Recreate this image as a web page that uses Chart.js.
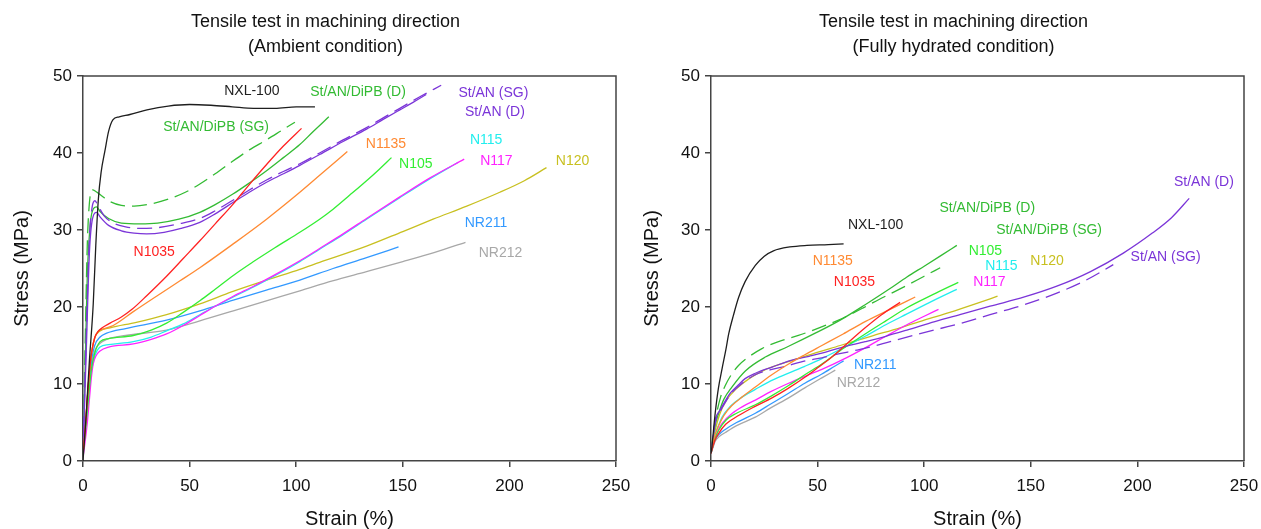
<!DOCTYPE html>
<html>
<head>
<meta charset="utf-8">
<script src="https://cdn.jsdelivr.net/npm/chart.js@4.4.1/dist/chart.umd.min.js"></script>
<style>
html,body{margin:0;padding:0;background:#fff;}
#wrap{position:relative;width:1261px;height:529px;overflow:hidden;}
#c1{position:absolute;left:0;top:0;}
#c2{position:absolute;left:630px;top:0;}
</style>
</head>
<body>
<div id="wrap">
<canvas id="c1" width="630" height="529"></canvas>
<canvas id="c2" width="631" height="529"></canvas>
</div>
<script>
// ---------- Ambient condition (left) : [strain %, stress MPa] ----------
const amb_NXL100 = [[0,0],[1.5,6],[3,13],[4.8,20.4],[6,28],[7.2,34],[8.5,37.5],[10.3,40.3],[12,42.8],[14,44.3],[17,44.7],[22,45],[30,45.6],[40,46.1],[50,46.3],[60,46.2],[70,46.0],[80,45.8],[90,45.8],[100,46],[108.8,46]];
const amb_DiPB_SG = [[0,1],[1,15],[2,28],[3,33.5],[4.5,35.2],[6,35],[8,34.6],[12,33.8],[18,33.2],[24,33.1],[32,33.4],[40,34],[48,34.9],[55,36],[62,37.3],[70,38.9],[78,40.4],[86,41.7],[93,42.9],[99.4,44.0]];
const amb_DiPB_D = [[0,1],[1,12],[2,24],[3.5,31],[5,32.8],[6.4,33.0],[8,32.4],[12,31.5],[18,30.9],[26.7,30.8],[35,30.9],[45,31.4],[54.8,32.3],[62,33.3],[70.5,34.7],[78,36.1],[86.1,37.7],[94,39.4],[101.7,41.1],[108,42.8],[115.3,44.7]];
const amb_StAN_D = [[0,1],[1.5,14],[3,27],[4.5,31.5],[6.4,32.3],[8,31.7],[12,30.6],[18,29.9],[24,29.6],[29.8,29.5],[38,29.7],[46,30.2],[54.8,31.0],[62,32.1],[70.5,33.6],[78,34.9],[86.1,36.2],[94,37.3],[101.7,38.4],[111,39.8],[122,41.5],[133,43.1],[141,44.4],[148.6,45.6],[155,46.6],[161,47.6]];
const amb_StAN_SG = [[0,1],[1.5,16],[3,29],[4.3,33.0],[5.6,33.8],[7,33.2],[10,31.8],[15,30.8],[20,30.4],[26.7,30.2],[35,30.3],[45,30.8],[54.8,31.5],[62,32.5],[70.5,33.9],[78,35.2],[86.1,36.5],[94,37.6],[101.7,38.6],[111,40.0],[122,41.7],[133,43.3],[141,44.6],[148.6,45.8],[158,47.3],[168,48.8]];
const amb_N1035 = [[0,1],[1,4],[2,8],[3,11.5],[4,14],[5.5,16],[7,16.8],[9,17.3],[12.7,17.9],[18,18.7],[23,19.7],[30,21.5],[39.2,24.0],[47,26.3],[54.8,28.6],[62,30.8],[70.5,33.4],[78,35.9],[86.1,38.5],[94,40.9],[102.5,43.2]];
const amb_N1135 = [[0,1],[1,4],[2,8],[3,11.5],[4,14],[5.5,16],[7,16.8],[10,17.2],[14.2,17.6],[23.6,19.4],[35,21.5],[45.5,23.4],[54.8,25.1],[70,28.1],[86.1,31.4],[100,34.5],[111,37.1],[124,40.2]];
const amb_N105 = [[0,1],[1,3.5],[2,6.5],[3,9.5],[4,12],[5.5,14],[8,15.5],[12,15.9],[23.6,16.3],[32,17],[39.2,17.9],[47,19.3],[54.8,20.8],[62,22.3],[70.5,24.1],[80,25.9],[90,27.7],[101.7,29.7],[111,31.4],[117.3,32.7],[125,34.5],[133,36.4],[139,37.9],[144.7,39.4]];
const amb_N115 = [[0,1],[1,3.5],[2,6.5],[3,9.3],[4,11.7],[5.5,13.6],[8,14.8],[12,15.1],[23.6,15.5],[32,16.1],[39.2,16.9],[47,17.8],[54.8,19.0],[62,20.1],[70.5,21.3],[80,22.6],[90.8,24.2],[101.7,25.9],[111,27.5],[122,29.4],[133,31.4],[148.6,34.2],[163,36.7],[176,38.8]];
const amb_N117 = [[0,0.5],[1,2.5],[2,4.9],[3,8],[4,11],[4.8,12.6],[6,13.6],[8,14.3],[12,14.8],[23.6,15.2],[32,15.8],[39.2,16.5],[47,17.6],[54.8,18.9],[62,20.1],[70.5,21.4],[80,22.7],[90.8,24.3],[101.7,26.0],[111,27.6],[122,29.5],[133,31.5],[148.6,34.3],[163,36.8],[178.8,39.2]];
const amb_N120 = [[0,1],[1,4],[2,8],[3,11.5],[4,14],[5.5,16],[8,16.9],[12.7,17.3],[25,18],[39.2,19],[54.8,20.4],[70,22],[86.1,23.5],[101.7,24.9],[111,25.8],[133,27.9],[150,29.8],[164.2,31.4],[180,33.1],[195.5,34.9],[207,36.4],[217.4,38.1]];
const amb_NR211 = [[0,1],[1,4],[2,7.5],[3,10.5],[4,13],[5.5,15],[8,16.1],[11.1,16.6],[20,17.2],[39.2,18.3],[54.8,19.5],[70.5,20.9],[86,22.2],[101.7,23.5],[117.3,25],[133,26.4],[148,27.8]];
const amb_NR212 = [[0,1],[1,3.8],[2,7],[3,10],[4,12.5],[5.5,14.3],[8,15.3],[11.1,15.8],[20,16.3],[39.2,17.0],[54.8,18.2],[70.5,19.5],[86,20.8],[101.7,22.1],[117,23.4],[133,24.6],[150,25.9],[165,27.1],[179.4,28.4]];

// ---------- Fully hydrated condition (right) ----------
const hyd_NXL100 = [[0,1],[0.5,2],[1,3.5],[2,6.3],[3.5,9.5],[5.2,12],[7,14.5],[8.3,16.5],[10.6,19],[12.9,21.2],[16,23.3],[20.8,25.4],[25,26.6],[29.3,27.3],[37,27.8],[45,28.0],[55,28.1],[62.2,28.2]];
const hyd_DiPB_SG = [[0,1],[1,3.5],[2.5,6],[4.5,8.3],[6.7,9.8],[9.5,11.2],[12.9,12.4],[17.6,13.5],[23.9,14.6],[31.7,15.5],[41,16.3],[48.9,17.1],[59.8,18.3],[70.8,19.8],[76.2,20.6],[84,21.7],[91.9,22.8],[100,24],[107.5,25.1]];
const hyd_DiPB_D = [[0,1],[1,3],[2,4.7],[3.6,6.2],[6,8],[9.8,9.6],[16.1,11.7],[25.5,13.5],[36.4,14.9],[48.9,16.6],[60.6,18.3],[72.3,20.3],[84,22.4],[91.9,23.9],[100,25.3],[108,26.7],[115.3,28.0]];
const hyd_StAN_D = [[0,1],[1,3],[2,5.3],[4,6.5],[6.7,7.8],[9,8.8],[12.9,9.9],[16,10.7],[20.8,11.4],[28.6,12.2],[38,13.1],[46,13.6],[52,14.0],[60.6,14.7],[72.3,15.5],[82,16.2],[91.9,17],[105,18.1],[118,19.1],[130.9,20.1],[147,21.3],[162.2,22.7],[178,24.6],[193.4,27.0],[207,29.6],[216,31.6],[224.3,34.1]];
const hyd_StAN_SG = [[0,1],[1,3],[2,5],[4,6.3],[6.7,7.6],[9,8.6],[12.9,9.7],[20.8,11.2],[28.6,11.9],[34.8,12.3],[44.2,13.0],[52,13.4],[59.8,13.9],[68.4,14.4],[76.2,14.9],[91.9,16.1],[107.5,17.2],[120,18.1],[130.9,19.0],[147,20.3],[162.2,21.8],[176,23.5],[188.7,25.5]];
const hyd_N1035 = [[0,1],[1,2],[2,2.8],[3.6,3.6],[7,4.8],[12.9,5.9],[20,7],[28.6,8.2],[36,9.4],[44.2,10.9],[50,12.1],[56.7,13.5],[64,15.3],[72.3,17.3],[80,19.0],[88.7,20.6]];
const hyd_N1135 = [[0,1],[1,2.5],[2,3.5],[3.6,4.6],[6,5.9],[9.8,7.2],[15,8.4],[20.8,9.6],[28,11.1],[36.4,12.6],[44,13.8],[52,15.0],[62,16.5],[72.3,18.1],[84,19.7],[95.8,21.3]];
const hyd_N105 = [[0,1],[1,2],[2,3],[3.6,4.0],[7,5.3],[12,6.2],[20.8,7.3],[28,8.4],[36.4,9.8],[44,11.2],[52,12.6],[62,14.6],[72.3,16.5],[82,18.2],[91.9,19.9],[104,21.6],[116,23.2]];
const hyd_N115 = [[0,1],[1,2.3],[2,3.5],[3.5,4.6],[5.2,5.7],[9,7.1],[14,8.2],[20.8,9.3],[28,10.4],[36.4,11.4],[44,12.3],[52,13.3],[62,14.7],[72.3,16.2],[82,17.7],[91.9,19.1],[104,20.8],[115.3,22.3]];
const hyd_N117 = [[0,1],[1,2],[2,3],[3.5,4.1],[5.2,4.9],[10,6.2],[15,7.1],[20.8,7.9],[28,9.0],[36.4,10.1],[44,11],[52,11.9],[62,13.2],[72.3,14.7],[82,16.2],[91.9,17.7],[100,18.8],[106.7,19.7]];
const hyd_N120 = [[0,1],[1,2.5],[2,4],[4,6],[7,7.8],[12,9.4],[18.4,10.8],[25,11.8],[35,12.8],[45,13.7],[60.6,15.0],[75,16.2],[88.7,17.3],[100,18.3],[112,19.3],[124,20.4],[134.4,21.4]];
const hyd_NR211 = [[0,1],[1,2],[2,2.8],[4,3.5],[6.7,4.1],[12,5.0],[20.8,6.2],[28,7.4],[36.4,8.8],[44,10.1],[52,11.3],[58,12.3],[62.2,13.0]];
const hyd_NR212 = [[0,1],[1,1.8],[2,2.6],[4,3.2],[6.7,3.7],[12,4.6],[20.8,5.7],[28,6.9],[36.4,8.2],[44,9.5],[52,10.8],[58.3,11.8]];

// ---------- axis ticks ----------
const xTicks = [0, 50, 100, 150, 200, 250];
const yTicks = [0, 10, 20, 30, 40, 50];

// ---------- texts ----------
const titleLeft = ['Tensile test in machining direction', '(Ambient condition)'];
const titleRight = ['Tensile test in machining direction', '(Fully hydrated condition)'];
const xTitle = 'Strain (%)';
const yTitle = 'Stress (MPa)';

// curve labels: [text, strain, stress] (text centre)
const ambLabels = [
  ['NXL-100', 79.2, 48.0], ['St/AN/DiPB (SG)', 62.4, 43.4], ['St/AN/DiPB (D)', 129, 47.9],
  ['St/AN (SG)', 192.5, 47.8], ['St/AN (D)', 193.2, 45.3], ['N1135', 142.1, 41.2],
  ['N105', 156.1, 38.5], ['N115', 189.1, 41.7], ['N117', 193.9, 38.9], ['N120', 229.6, 38.9],
  ['NR211', 189, 30.9], ['NR212', 195.8, 27.0], ['N1035', 33.4, 27.1]
];
const hydLabels = [
  ['NXL-100', 77.2, 30.6], ['N1135', 57.1, 26.0], ['N1035', 67.3, 23.2],
  ['St/AN/DiPB (D)', 129.6, 32.8], ['St/AN/DiPB (SG)', 158.6, 30.0], ['N105', 128.7, 27.3],
  ['N115', 136.2, 25.3], ['N120', 157.6, 25.9], ['N117', 130.6, 23.2],
  ['St/AN (D)', 231.2, 36.2], ['St/AN (SG)', 213.2, 26.5], ['NR211', 77.0, 12.4], ['NR212', 69.2, 10.1]
];

const colors = {
  'NXL-100': '#1e1e1e', 'St/AN/DiPB (SG)': '#33bb33', 'St/AN/DiPB (D)': '#33bb33',
  'St/AN (SG)': '#7b35d8', 'St/AN (D)': '#7b35d8', 'N1035': '#ff2222', 'N1135': '#ff8a33',
  'N105': '#33ee33', 'N115': '#22eeee', 'N117': '#ff22ff', 'N120': '#c8c020',
  'NR211': '#3399ff', 'NR212': '#a8a8a8'
};
const FONT = "'Liberation Sans', Arial, sans-serif";

function ds(name, data, dashed) {
  return {
    label: name, data: data, borderColor: colors[name], backgroundColor: colors[name],
    borderWidth: 1.3, pointRadius: 0, fill: false, tension: 0.4,
    cubicInterpolationMode: 'monotone', borderDash: dashed ? [15, 7] : []
  };
}

function makePlugin(titles, labels) {
  return {
    id: 'deco',
    afterDraw(chart) {
      const ctx = chart.ctx, a = chart.chartArea;
      const xs = chart.scales.x, ys = chart.scales.y;
      ctx.save();
      ctx.strokeStyle = '#444'; ctx.lineWidth = 1.5;
      ctx.beginPath();
      ctx.moveTo(a.left, a.top); ctx.lineTo(a.right, a.top); ctx.lineTo(a.right, a.bottom);
      ctx.stroke();
      ctx.fillStyle = '#111'; ctx.font = '18px ' + FONT;
      ctx.textAlign = 'center'; ctx.textBaseline = 'middle';
      const cx = (a.left + a.right) / 2 - 24;
      ctx.fillText(titles[0], cx, 22);
      ctx.fillText(titles[1], cx, 47);
      ctx.font = '14px ' + FONT;
      labels.forEach(l => {
        ctx.fillStyle = colors[l[0]];
        ctx.fillText(l[0], xs.getPixelForValue(l[1]), ys.getPixelForValue(l[2]));
      });
      ctx.restore();
    }
  };
}

function makeChart(id, datasets, titles, labels, padRight, yWidth) {
  return new Chart(document.getElementById(id), {
    type: 'line',
    data: { datasets: datasets },
    options: {
      responsive: false, animation: false, devicePixelRatio: 1,
      layout: { padding: { left: 0, top: 76, right: padRight, bottom: 0 } },
      plugins: { legend: { display: false }, tooltip: { enabled: false }, title: { display: false } },
      scales: {
        x: {
          type: 'linear', min: 0, max: 250,
          afterBuildTicks(s) { s.ticks = xTicks.map(v => ({ value: v })); },
          afterFit(s) { s.height = 68; s.paddingLeft = 0; s.paddingRight = 0; },
          ticks: { color: '#111', font: { family: FONT, size: 17 }, padding: 9, maxRotation: 0 },
          grid: { drawOnChartArea: false, drawTicks: true, tickLength: 6, color: '#444', lineWidth: 1.5 },
          border: { display: true, color: '#444', width: 1.5 },
          title: { display: true, text: xTitle, color: '#111', font: { family: FONT, size: 20, lineHeight: 1.0 }, padding: { top: 0, bottom: 0 } }
        },
        y: {
          type: 'linear', min: 0, max: 50,
          afterBuildTicks(s) { s.ticks = yTicks.map(v => ({ value: v })); },
          afterFit(s) { s.width = yWidth; },
          ticks: { color: '#111', font: { family: FONT, size: 17 }, padding: 5 },
          grid: { drawOnChartArea: false, drawTicks: true, tickLength: 6, color: '#444', lineWidth: 1.5 },
          border: { display: true, color: '#444', width: 1.5 },
          title: { display: true, text: yTitle, color: '#111', font: { family: FONT, size: 20, lineHeight: 1.0 }, padding: { top: 12, bottom: 0 } }
        }
      }
    },
    plugins: [makePlugin(titles, labels)]
  });
}

// first dataset is drawn on top in Chart.js
makeChart('c1', [
  ds('NXL-100', amb_NXL100), ds('N1035', amb_N1035), ds('N1135', amb_N1135),
  ds('St/AN (D)', amb_StAN_D), ds('St/AN (SG)', amb_StAN_SG, true),
  ds('St/AN/DiPB (D)', amb_DiPB_D), ds('St/AN/DiPB (SG)', amb_DiPB_SG, true),
  ds('N105', amb_N105), ds('N117', amb_N117), ds('N115', amb_N115), ds('N120', amb_N120),
  ds('NR211', amb_NR211), ds('NR212', amb_NR212)
], titleLeft, ambLabels, 14, 83);

makeChart('c2', [
  ds('NXL-100', hyd_NXL100), ds('N1035', hyd_N1035), ds('N1135', hyd_N1135),
  ds('St/AN (D)', hyd_StAN_D), ds('St/AN (SG)', hyd_StAN_SG, true),
  ds('St/AN/DiPB (D)', hyd_DiPB_D), ds('St/AN/DiPB (SG)', hyd_DiPB_SG, true),
  ds('N105', hyd_N105), ds('N117', hyd_N117), ds('N115', hyd_N115), ds('N120', hyd_N120),
  ds('NR211', hyd_NR211), ds('NR212', hyd_NR212)
], titleRight, hydLabels, 17, 81);
</script>
</body>
</html>
